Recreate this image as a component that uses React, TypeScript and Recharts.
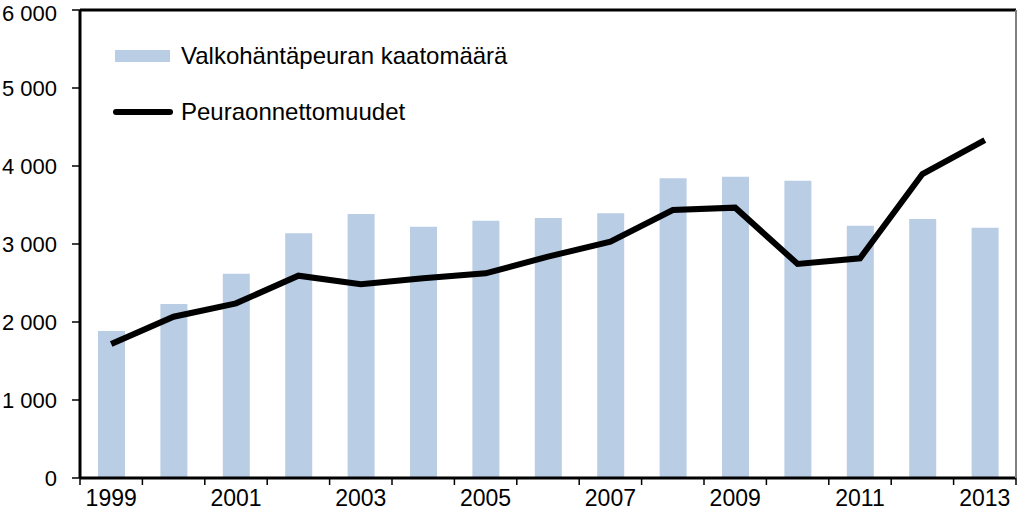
import React from 'react';
import { ComposedChart, Bar, Line, XAxis, YAxis, ReferenceLine, Legend } from 'recharts';

const years = ['1999', '2000', '2001', '2002', '2003', '2004', '2005', '2006', '2007', '2008', '2009', '2010', '2011', '2012', '2013'];
const harvest = [1885, 2231, 2619, 3137, 3385, 3222, 3299, 3333, 3393, 3842, 3863, 3812, 3235, 3321, 3209];
const accidents = [1718, 2068, 2239, 2594, 2483, 2560, 2624, 2838, 3030, 3436, 3466, 2744, 2816, 3897, 4333];
const leftTicks = [0, 1000, 2000, 3000, 4000, 5000, 6000];
const rightTicks = [0, 1, 2, 3, 4, 5, 6, 7, 8];
const harvestName = 'Valkohäntäpeuran kaatomäärä';
const accidentName = 'Peuraonnettomuudet';

const FONT = '"Liberation Sans", Arial, sans-serif';
const BAR_COLOR = '#b9cde5';

const data = years.map((year, i) => ({ year, harvest: harvest[i], accidents: accidents[i] }));

const fmt = (v: number) => (v >= 1000 ? `${Math.floor(v / 1000)} ${String(v % 1000).padStart(3, '0')}` : String(v));

// ticks sit on the category boundaries, labels on every other year
const YearTick = (props: any) => {
  const { x, y, payload, index } = props;
  const half = payload && payload.offset != null ? payload.offset : 31.2;
  const last = index === years.length - 1;
  return (
    <g>
      <line x1={x - half} x2={x - half} y1={y - 12} y2={y - 5} stroke="#000" strokeWidth={1.5} />
      {last && <line x1={x + half} x2={x + half} y1={y - 12} y2={y - 5} stroke="#000" strokeWidth={1.5} />}
      {index % 2 === 0 && (
        <text x={x} y={y} dy="0.71em" textAnchor="middle" fontSize={23} fontFamily={FONT} fill="#000">
          {payload.value}
        </text>
      )}
    </g>
  );
};

const LegendBox = () => (
  <div style={{ fontFamily: FONT, fontSize: 24, color: '#000' }}>
    <div style={{ display: 'flex', alignItems: 'center', height: 56 }}>
      <div style={{ width: 68 }}>
        <div style={{ marginLeft: 2, width: 55, height: 12, background: BAR_COLOR }} />
      </div>
      <span>{harvestName}</span>
    </div>
    <div style={{ display: 'flex', alignItems: 'center', height: 56 }}>
      <div style={{ width: 68, height: 8 }}>
        <svg width={68} height={8} style={{ display: 'block' }}>
          <line x1={3} x2={57} y1={4} y2={4} stroke="#000" strokeWidth={6} strokeLinecap="round" />
        </svg>
      </div>
      <span>{accidentName}</span>
    </div>
  </div>
);

export default function App() {
  return (
    <div style={{ position: 'absolute', left: 0, top: 0, background: '#fff' }}>
      <ComposedChart width={1024} height={514} data={data} margin={{ top: 10, right: 0, left: 0, bottom: 0 }}>
        <XAxis
          dataKey="year"
          interval={0}
          height={36}
          axisLine={{ stroke: '#000', strokeWidth: 3 }}
          tickLine={{ stroke: 'none' }}
          tickSize={7}
          tickMargin={5}
          tick={<YearTick />}
        />
        <YAxis
          yAxisId="left"
          domain={[0, 6000]}
          ticks={leftTicks}
          width={80}
          tickSize={8}
          tickMargin={15}
          tickFormatter={fmt}
          axisLine={{ stroke: '#000', strokeWidth: 3 }}
          tickLine={{ stroke: '#000', strokeWidth: 1.5 }}
          tick={{ fill: '#000', fontSize: 22, fontFamily: FONT }}
        />
        <YAxis
          yAxisId="right"
          orientation="right"
          domain={[0, 8]}
          ticks={rightTicks}
          width={8}
          tickSize={8}
          tickFormatter={() => ''}
          axisLine={{ stroke: '#808080', strokeWidth: 2 }}
          tickLine={{ stroke: '#808080', strokeWidth: 1.5 }}
        />
        <ReferenceLine yAxisId="left" y={6000} stroke="#000" strokeWidth={3} />
        <Legend
          layout="horizontal"
          verticalAlign="middle"
          align="center"
          content={<LegendBox />}
          wrapperStyle={{ left: 113, top: 28, width: 'auto' }}
        />
        <Bar yAxisId="left" dataKey="harvest" name={harvestName} fill={BAR_COLOR} barSize={27} isAnimationActive={false} />
        <Line
          yAxisId="left"
          type="linear"
          dataKey="accidents"
          name={accidentName}
          stroke="#000"
          strokeWidth={6}
          dot={false}
          isAnimationActive={false}
        />
      </ComposedChart>
    </div>
  );
}
